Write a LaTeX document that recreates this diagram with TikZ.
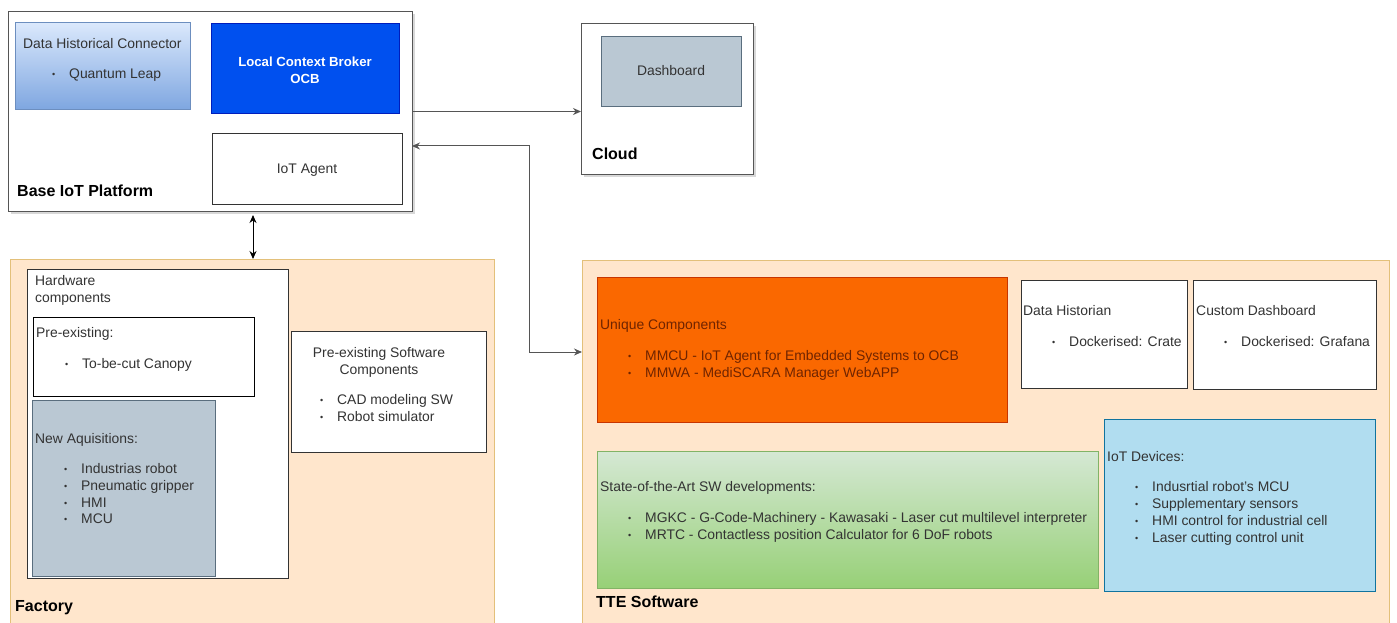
\documentclass[tikz,border=0pt]{standalone}
\usepackage{fontspec}
\setmainfont{Liberation Sans}
\usetikzlibrary{arrows.meta,shadows,calc}
\definecolor{tgray}{HTML}{333333}
\definecolor{lgray}{HTML}{555555}
\definecolor{peach}{HTML}{FFE6CC}
\definecolor{peachline}{HTML}{E3C07A}
\definecolor{slate}{HTML}{BAC8D3}
\definecolor{slateline}{HTML}{5A6E7E}
\definecolor{ocbblue}{HTML}{0050EF}
\definecolor{ocbline}{HTML}{001DBC}
\definecolor{ltblueA}{HTML}{DAE8FC}
\definecolor{ltblueB}{HTML}{7EA6E0}
\definecolor{ltblueline}{HTML}{6C8EBF}
\definecolor{orng}{HTML}{FA6800}
\definecolor{orngline}{HTML}{C73500}
\definecolor{orngtext}{HTML}{6F2400}
\definecolor{grnA}{HTML}{D5E8D4}
\definecolor{grnB}{HTML}{97D077}
\definecolor{grnline}{HTML}{82B366}
\definecolor{skyb}{HTML}{B1DDF0}
\definecolor{skybline}{HTML}{10739E}
\newcommand\bitem[1]{\makebox[17pt][l]{\raisebox{1.3pt}{\fontsize{9}{9}\selectfont\textbullet}}#1}
\begin{document}
\begin{tikzpicture}[x=1pt,y=-1pt,
  font=\fontsize{13.9}{16}\selectfont,
  box/.style={draw, anchor=north west, inner sep=0pt, line width=1pt, outer sep=0pt},
  shad/.style={drop shadow={opacity=0.3, shadow xshift=2.5pt, shadow yshift=-2.5pt, fill=gray}},
  txt/.style={anchor=west, inner sep=0pt, text height=10pt, text depth=3pt, text=tgray},
  ctxt/.style={anchor=center, inner sep=0pt, text height=10pt, text depth=3pt, text=tgray},
  lbl/.style={anchor=west, inner sep=0pt, text height=11pt, text depth=3pt, font=\fontsize{16}{18}\selectfont\bfseries, text=black},
  arr/.style={draw=lgray, line width=1pt, -{Stealth[length=8pt,width=7pt]}},
  dbl/.style={draw=black, line width=1pt, {Stealth[length=8pt,width=7pt]}-{Stealth[length=8pt,width=7pt]}}
]
\useasboundingbox (0,0) rectangle (1397,623);
\fill[white] (0,0) rectangle (1397,623);

% ---------- Base IoT Platform ----------
\node[box, shad, fill=white, draw=lgray, minimum width=404pt, minimum height=199pt] (base) at (8,12) {};
\node[box, draw=ltblueline, top color=ltblueA, bottom color=ltblueB, minimum width=175pt, minimum height=87pt] (dhc) at (15,23) {};
\node[box, fill=ocbblue, draw=ocbline, minimum width=188pt, minimum height=90pt] (lcb) at (211,24) {};
\node[box, fill=white, draw=tgray, minimum width=190pt, minimum height=70pt] (agent) at (212,134) {};
\node[txt] (dhct) at (23,45) {Data Historical Connector};
\node[txt] (dhci) at (52,75) {\bitem{Quantum Leap}};
\node[anchor=center, inner sep=0pt, align=center, text=white, font=\fontsize{13.2}{17}\selectfont\bfseries] (lcbt) at (305,70) {Local Context Broker\\OCB};
\node[ctxt] (agentt) at (307,170) {IoT Agent};
\node[lbl] (baset) at (17,192) {Base IoT Platform};

% ---------- Cloud ----------
\node[box, shad, fill=white, draw=lgray, minimum width=172pt, minimum height=150pt] (cloud) at (581,24) {};
\node[box, fill=slate, draw=slateline, minimum width=140pt, minimum height=70pt] (dash) at (601,37) {};
\node[ctxt] (dasht) at (dash.center) {Dashboard};
\node[lbl] (cloudt) at (592,155) {Cloud};

% ---------- Factory ----------
\node[box, fill=peach, draw=peachline, minimum width=484pt, minimum height=364pt] (factory) at (10,259) {};
\node[box, fill=white, draw=tgray, minimum width=261pt, minimum height=309pt] (hw) at (27,269) {};
\node[box, fill=white, draw=black, minimum width=221pt, minimum height=79pt] (pre) at (33,317) {};
\node[box, fill=slate, draw=slateline, minimum width=183pt, minimum height=176pt] (newaq) at (32,400) {};
\node[box, fill=white, draw=tgray, minimum width=195pt, minimum height=121pt] (presw) at (291,331) {};
\node[txt] (hwt1) at (35,282) {Hardware};
\node[txt] (hwt2) at (35,299) {components};
\node[txt] (pret) at (36,334) {Pre-existing:};
\node[txt] (prei) at (65,365) {\bitem{To-be-cut Canopy}};
\node[txt] (newt) at (35,440) {New Aquisitions:};
\node[txt] (newi1) at (64,470) {\bitem{Industrias robot}};
\node[txt] (newi2) at (64,487) {\bitem{Pneumatic gripper}};
\node[txt] (newi3) at (64,504) {\bitem{HMI}};
\node[txt] (newi4) at (64,520) {\bitem{MCU}};
\node[ctxt] (preswt1) at (379,354) {Pre-existing Software};
\node[ctxt] (preswt2) at (379,371) {Components};
\node[txt] (preswi1) at (320,401) {\bitem{CAD modeling SW}};
\node[txt] (preswi2) at (320,418) {\bitem{Robot simulator}};
\node[lbl] (factoryt) at (15,607) {Factory};

% ---------- TTE Software ----------
\node[box, fill=peach, draw=peachline, minimum width=807pt, minimum height=363pt] (tte) at (582,260) {};
\node[box, fill=orng, draw=orngline, minimum width=410pt, minimum height=145pt] (uniq) at (597,277) {};
\node[box, draw=grnline, top color=grnA, bottom color=grnB, minimum width=501pt, minimum height=137pt] (sota) at (597,451) {};
\node[box, fill=white, draw=tgray, minimum width=166pt, minimum height=108pt] (dh) at (1021,280) {};
\node[box, fill=white, draw=tgray, minimum width=183pt, minimum height=109pt] (cd) at (1193,280) {};
\node[box, fill=skyb, draw=skybline, minimum width=271pt, minimum height=172pt] (iotd) at (1104,419) {};
\node[txt, text=orngtext] (uniqt) at (600,326) {Unique Components};
\node[txt, text=orngtext] (uniqi1) at (628,357) {\bitem{MMCU - IoT Agent for Embedded Systems to OCB}};
\node[txt, text=orngtext] (uniqi2) at (628,374) {\bitem{MMWA - MediSCARA Manager WebAPP}};
\node[txt] (sotat) at (600,488) {State-of-the-Art SW developments:};
\node[txt] (sotai1) at (628,519) {\bitem{MGKC - G-Code-Machinery - Kawasaki - Laser cut multilevel interpreter}};
\node[txt] (sotai2) at (628,536) {\bitem{MRTC - Contactless position Calculator for 6 DoF robots}};
\node[txt] (dht) at (1023,312) {Data Historian};
\node[txt] (dhi) at (1052,343) {\bitem{Dockerised: Crate}};
\node[txt] (cdt) at (1196,312) {Custom Dashboard};
\node[txt] (cdi) at (1224,343) {\bitem{Dockerised: Grafana}};
\node[txt] (iotdt) at (1107,458) {IoT Devices:};
\node[txt] (iotdi1) at (1135,488) {\bitem{Indusrtial robot's MCU}};
\node[txt] (iotdi2) at (1135,505) {\bitem{Supplementary sensors}};
\node[txt] (iotdi3) at (1135,522) {\bitem{HMI control for industrial cell}};
\node[txt] (iotdi4) at (1135,539) {\bitem{Laser cutting control unit}};
\node[lbl] (ttet) at (596,603) {TTE Software};

% ---------- Connectors ----------
\coordinate (ag) at (412,146);
\coordinate (bend) at (529,352);
\coordinate (va) at (253,215);
\draw[arr] (base.east) -- (base.east -| cloud.west);
\draw[dbl, draw=lgray] (tte.west |- bend) -- (bend) |- (base.east |- ag);
\draw[dbl] (va) -- (factory.north -| va);
\end{tikzpicture}
\end{document}
